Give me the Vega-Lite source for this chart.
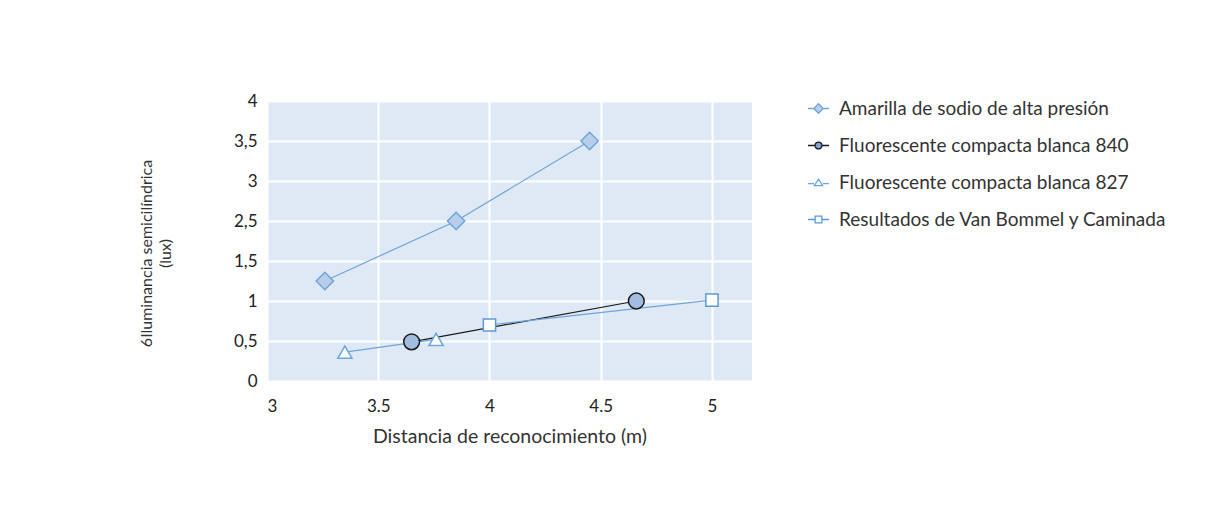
{
  "$schema": "https://vega.github.io/schema/vega-lite/v6.json",
  "autosize": "none",
  "width": 485,
  "height": 280,
  "padding": {"left": 267, "top": 101, "right": 474, "bottom": 126},
  "background": "white",
  "config": {
    "font": "Lato",
    "view": {"fill": "#dfe8f5", "stroke": null},
    "axis": {"labelFont": "Lato", "titleFont": "Lato", "labelColor": "#222", "titleColor": "#333", "titleFontWeight": "normal"},
    "legend": {"labelFont": "Lato"}
  },
  "data": {
    "values": [
      {"serie": "Amarilla de sodio de alta presión", "x": 3.26, "y": 1.25},
      {"serie": "Amarilla de sodio de alta presión", "x": 3.85, "y": 2.5},
      {"serie": "Amarilla de sodio de alta presión", "x": 4.45, "y": 3.5},
      {"serie": "Fluorescente compacta blanca 840", "x": 3.65, "y": 0.49},
      {"serie": "Fluorescente compacta blanca 840", "x": 4.66, "y": 1.0},
      {"serie": "Fluorescente compacta blanca 827", "x": 3.35, "y": 0.36},
      {"serie": "Fluorescente compacta blanca 827", "x": 3.76, "y": 0.52},
      {"serie": "Resultados de Van Bommel y Caminada", "x": 4.0, "y": 0.7},
      {"serie": "Resultados de Van Bommel y Caminada", "x": 5.0, "y": 1.01}
    ]
  },
  "encoding": {
    "x": {
      "field": "x", "type": "quantitative",
      "scale": {"domain": [3, 5.18], "nice": false, "zero": false},
      "axis": {
        "values": [3, 3.5, 4, 4.5, 5],
        "labelExpr": "format(datum.value, '~g')",
        "title": "Distancia de reconocimiento (m)",
        "domain": false, "ticks": false,
        "grid": true, "gridColor": "white", "gridWidth": 2,
        "labelFontSize": 17, "labelPadding": 17,
        "titleFontSize": 19.5, "titlePadding": 13
      }
    },
    "y": {
      "field": "y", "type": "quantitative",
      "scale": {"type": "linear", "domain": [0, 1.5, 2.5, 4], "range": [280, 160, 120, 0], "nice": false, "zero": false},
      "axis": {
        "values": [0, 0.5, 1, 1.5, 2.5, 3, 3.5, 4],
        "labelExpr": "replace(format(datum.value, '~g'), '.', ',')",
        "title": ["6Iluminancia semicilíndrica", "(lux)"],
        "domain": false, "ticks": false,
        "grid": true, "gridColor": "white", "gridWidth": 2,
        "labelFontSize": 17, "labelPadding": 10,
        "titleFontSize": 16, "titleAngle": -90,
        "titleX": -129, "titleY": 152, "titleAlign": "center", "titleBaseline": "top",
        "titleLineHeight": 19
      }
    }
  },
  "resolve": {"scale": {"shape": "independent", "fill": "independent", "stroke": "independent", "color": "independent", "size": "independent"}},
  "layer": [
    {
      "mark": {"type": "line", "strokeWidth": 1.2},
      "encoding": {
        "color": {
          "field": "serie", "type": "nominal",
          "scale": {
            "domain": ["Amarilla de sodio de alta presión", "Fluorescente compacta blanca 840", "Fluorescente compacta blanca 827", "Resultados de Van Bommel y Caminada"],
            "range": ["#6fa5da", "#1a1a1a", "#6fa5da", "#6fa5da"]
          },
          "legend": null
        }
      }
    },
    {
      "mark": {"type": "point", "filled": false, "strokeWidth": 1.5, "opacity": 1},
      "encoding": {
        "shape": {
          "field": "serie", "type": "nominal",
          "scale": {
            "domain": ["Amarilla de sodio de alta presión", "Fluorescente compacta blanca 840", "Fluorescente compacta blanca 827", "Resultados de Van Bommel y Caminada"],
            "range": ["diamond", "circle", "triangle-up", "square"]
          },
          "legend": null
        },
        "fill": {
          "field": "serie", "type": "nominal",
          "scale": {
            "domain": ["Amarilla de sodio de alta presión", "Fluorescente compacta blanca 840", "Fluorescente compacta blanca 827", "Resultados de Van Bommel y Caminada"],
            "range": ["#b8cdea", "#a3bde0", "#ffffff", "#ffffff"]
          },
          "legend": null
        },
        "stroke": {
          "field": "serie", "type": "nominal",
          "scale": {
            "domain": ["Amarilla de sodio de alta presión", "Fluorescente compacta blanca 840", "Fluorescente compacta blanca 827", "Resultados de Van Bommel y Caminada"],
            "range": ["#6fa5da", "#1a1a1a", "#6fa5da", "#5b9bd5"]
          },
          "legend": null
        },
        "size": {
          "field": "serie", "type": "nominal",
          "scale": {
            "domain": ["Amarilla de sodio de alta presión", "Fluorescente compacta blanca 840", "Fluorescente compacta blanca 827", "Resultados de Van Bommel y Caminada"],
            "range": [300, 150, 260, 190]
          },
          "legend": null
        }
      }
    },
    {
      "mark": {"type": "point", "filled": false, "strokeWidth": 1.3, "opacity": 0},
      "encoding": {
        "shape": {
          "field": "serie", "type": "nominal",
          "scale": {
            "domain": ["Amarilla de sodio de alta presión", "Fluorescente compacta blanca 840", "Fluorescente compacta blanca 827", "Resultados de Van Bommel y Caminada"],
            "range": [
              "M-1,0H-0.45M0.45,0H1M0,-0.45L0.45,0L0,0.45L-0.45,0Z",
              "M-1,0H-0.33M0.33,0H1M0.33,0A0.33,0.33 0 1,1 -0.33,0A0.33,0.33 0 1,1 0.33,0Z",
              "M-1,0.1H-0.42M0.42,0.1H1M0,-0.32L0.4,0.3L-0.4,0.3Z",
              "M-1,0H-0.32M0.32,0H1M-0.32,-0.32H0.32V0.32H-0.32Z"
            ]
          },
          "legend": {
            "title": null,
            "orient": "none",
            "legendX": 540,
            "legendY": -4,
            "labelFontSize": 19,
            "labelColor": "#333",
            "labelOffset": 9,
            "symbolSize": 441,
            "symbolOpacity": 1,
            "symbolStrokeWidth": 1.3,
            "rowPadding": 15,
            "labelLimit": 500
          }
        },
        "fill": {
          "field": "serie", "type": "nominal",
          "scale": {
            "domain": ["Amarilla de sodio de alta presión", "Fluorescente compacta blanca 840", "Fluorescente compacta blanca 827", "Resultados de Van Bommel y Caminada"],
            "range": ["#b8cdea", "#7fa6d8", "#ffffff", "#ffffff"]
          }
        },
        "stroke": {
          "field": "serie", "type": "nominal",
          "scale": {
            "domain": ["Amarilla de sodio de alta presión", "Fluorescente compacta blanca 840", "Fluorescente compacta blanca 827", "Resultados de Van Bommel y Caminada"],
            "range": ["#6fa5da", "#1a1a1a", "#6fa5da", "#5b9bd5"]
          }
        }
      }
    }
  ]
}
